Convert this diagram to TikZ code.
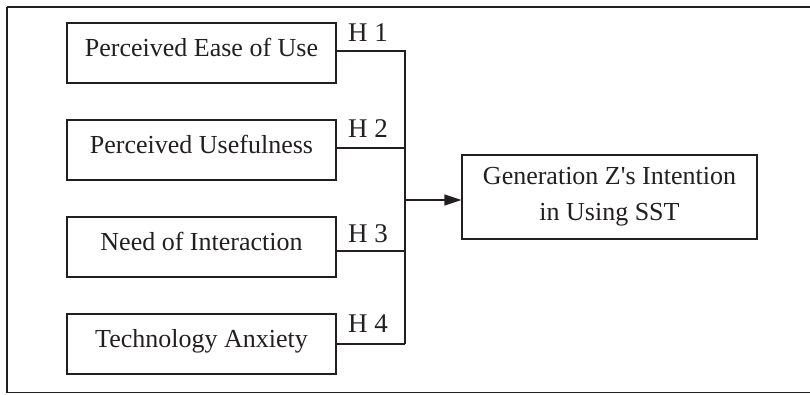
\documentclass[tikz,border=0pt]{standalone}
\usepackage{fontspec}
\setmainfont{Liberation Serif}[Ligatures=TeXOff]
\usetikzlibrary{arrows.meta}
\definecolor{ink}{HTML}{231F20}
\begin{document}
\begin{tikzpicture}[x=1pt,y=-1pt,
  every node/.style={text=ink},
  factor/.style={draw=ink, line width=1.3pt, minimum width=269pt, minimum height=60pt,
    inner sep=0pt, text height=18pt, text depth=12pt,
    font=\fontsize{26}{31}\selectfont},
  goalbox/.style={draw=ink, line width=1.3pt, minimum width=295pt, minimum height=84pt,
    inner sep=0pt, align=center, font=\fontsize{26}{36}\selectfont},
  hlabel/.style={anchor=base west, inner sep=0pt, font=\fontsize{27}{32}\selectfont},
  link/.style={draw=ink, line width=1.3pt},
  arr/.style={link, -{Triangle[length=17pt, width=11pt]}}]
\useasboundingbox (0,0) rectangle (810,394);
\draw[draw=ink, line width=1.5pt] (7,7) -- (7,392.5) -- (815,392.5) (7,7) -- (815,7);
\node[factor] (b1) at (201.5,53) {Perceived Ease of Use};
\node[factor] (b2) at (201.5,150) {Perceived Usefulness};
\node[factor] (b3) at (201.5,247) {Need of Interaction};
\node[factor] (b4) at (201.5,344) {Technology Anxiety};
\node[goalbox] (goal) at (609.5,197) {Generation Z's Intention\\in Using SST};
\coordinate (top) at (405,51);
\coordinate (bot) at (405,344);
\coordinate (mid) at (405,200);
\draw[link] ([yshift=2pt]b1.east) -| (bot);
\draw[link] ([yshift=2pt]b2.east) -- ([yshift=2pt]b2.east -| top);
\draw[link] ([yshift=-4pt]b3.east) -- ([yshift=-4pt]b3.east -| top);
\draw[link] (b4.east) -- (bot);
\draw[arr] (mid) -- (mid -| goal.west);
\node[hlabel] (h1) at (348,41) {H 1};
\node[hlabel] (h2) at (348,137) {H 2};
\node[hlabel] (h3) at (348,242) {H 3};
\node[hlabel] (h4) at (348,332) {H 4};
\end{tikzpicture}
\end{document}
